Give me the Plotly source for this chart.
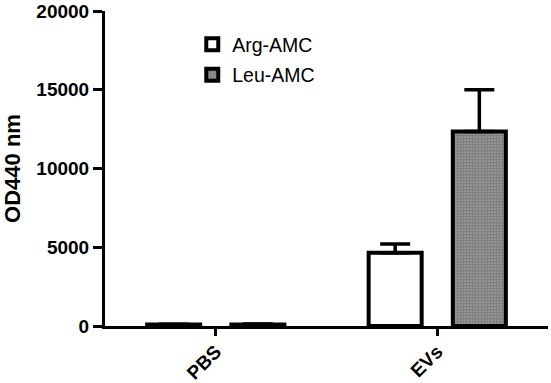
import plotly.graph_objects as go

categories = ["PBS", "EVs"]
arg_values = [90, 4650]
arg_errors = [20, 560]
leu_values = [100, 12350]
leu_errors = [20, 2650]
y_ticks = [0, 5000, 10000, 15000, 20000]

FONT = "Arial, 'Liberation Sans', sans-serif"

fig = go.Figure()
fig.add_trace(go.Bar(
    name="Arg-AMC", x=categories, y=arg_values,
    marker=dict(color="white", line=dict(color="black", width=4)),
    error_y=dict(type="data", symmetric=False, array=arg_errors,
                 arrayminus=[0, 0], color="black", thickness=3.5, width=15),
    legendgroup="a",
))
fig.add_trace(go.Bar(
    name="Leu-AMC", x=categories, y=leu_values,
    marker=dict(color="white", line=dict(color="black", width=4),
                pattern=dict(shape=".", size=3, solidity=0.85,
                             fgcolor="black", bgcolor="white")),
    error_y=dict(type="data", symmetric=False, array=leu_errors,
                 arrayminus=[0, 0], color="black", thickness=3.5, width=15),
    legendgroup="b",
))

fig.update_layout(
    width=551, height=383,
    margin=dict(l=105, r=3, t=11, b=57),
    paper_bgcolor="white", plot_bgcolor="white",
    barmode="group", bargap=0.24, bargroupgap=0.37,
    font=dict(family=FONT, color="black"),
    legend=dict(x=0.197, y=0.955, xanchor="left", yanchor="top",
                font=dict(size=19.5, family=FONT), tracegroupgap=2,
                bgcolor="rgba(0,0,0,0)"),
    xaxis=dict(range=[-0.5, 1.5], showline=True, linecolor="black", linewidth=3,
               ticks="outside", ticklen=7, tickwidth=2.5, tickcolor="black",
               tickangle=-45, tickfont=dict(size=19, family=FONT, weight="bold"),
               ticklabelstandoff=-3, automargin=False,
               showgrid=False, zeroline=False),
    yaxis=dict(range=[0, 20000], tickvals=y_ticks, tickformat="d",
               showline=True, linecolor="black", automargin=False,
               linewidth=3, ticks="outside", ticklen=9, tickwidth=3, tickcolor="black",
               tickfont=dict(size=19, family=FONT, weight="bold"),
               showgrid=False, zeroline=False,
               title=dict(text="OD440 nm", standoff=19,
                          font=dict(size=22, family=FONT, weight="bold"))),
)

fig.write_html("out.html", config={"displayModeBar": False},
               post_script="document.body.style.margin='0';document.body.style.overflow='hidden';")
